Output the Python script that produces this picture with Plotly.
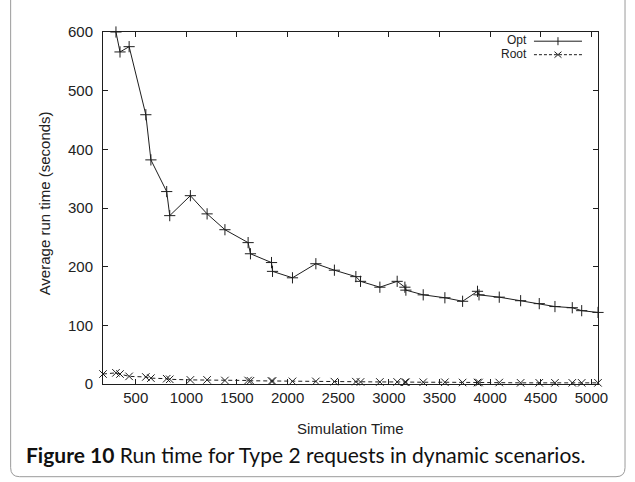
import plotly.graph_objects as go

# ---- data ----
opt_x = [305, 345, 435, 600, 650, 806, 836, 1040, 1205, 1381, 1610, 1633, 1841, 1851,
         2048, 2279, 2462, 2674, 2720, 2911, 3082, 3158, 3168, 3339, 3553, 3728, 3875,
         3890, 4090, 4301, 4485, 4640, 4811, 4904, 5065]
opt_y = [600, 566, 575, 459, 382, 328, 287, 321, 290, 263, 241, 222, 207, 192,
         181, 205, 194, 183, 175, 165, 175, 165, 160, 152, 147, 141, 158,
         152, 148, 142, 137, 132, 130, 125, 122]

root_x = [177, 305, 345, 435, 600, 650, 806, 836, 1040, 1205, 1381, 1610, 1633, 1841, 1851,
          2048, 2279, 2462, 2674, 2720, 2911, 3082, 3158, 3168, 3339, 3553, 3728, 3875,
          3890, 4090, 4301, 4485, 4640, 4811, 4904, 5065]
root_y = [17, 19, 17, 13, 12, 10, 9, 8, 7, 7, 6, 6, 5.5, 5, 5,
          4.5, 4.5, 4, 4, 3.5, 3.5, 3.5, 3, 3, 3, 3, 2.5, 2.5,
          2.5, 2.5, 2, 2, 2, 2, 2, 2]

x_ticks = [500, 1000, 1500, 2000, 2500, 3000, 3500, 4000, 4500, 5000]
y_ticks = [0, 100, 200, 300, 400, 500, 600]
series_names = ["Opt", "Root"]
x_title = "Simulation Time"
y_title = "Average run time (seconds)"
caption_bold = "Figure 10"
caption_rest = " Run time for Type 2 requests in dynamic scenarios."

# ---- geometry (pixels) ----
W, H = 635, 482
L, R, T, B = 103.3, 598.0, 32.3, 384.3
pw, ph = R - L, B - T


def px(xp):
    return (xp - L) / pw


def py(yp):
    return (B - yp) / ph


INK = "#1e1e1e"
fig = go.Figure()
fig.add_trace(go.Scatter(
    x=opt_x, y=opt_y, mode="lines+markers", name=series_names[0],
    line=dict(color=INK, width=1),
    marker=dict(symbol="cross-thin-open", size=8, line=dict(color=INK, width=1)),
    cliponaxis=False, showlegend=False))
fig.add_trace(go.Scatter(
    x=root_x, y=root_y, mode="lines+markers", name=series_names[1],
    line=dict(color=INK, width=1, dash="4px,3px"),
    marker=dict(symbol="x-thin-open", size=7.5, line=dict(color=INK, width=1)),
    cliponaxis=False, showlegend=False))

tickfont = dict(family="Liberation Sans, Arial, sans-serif", size=15, color="#222")
fig.update_xaxes(range=[177, 5065], tickvals=x_ticks, ticks="inside", ticklen=5,
                 tickcolor=INK, showline=True, linecolor=INK, linewidth=1, mirror="ticks",
                 showgrid=False, zeroline=False, tickfont=tickfont, ticklabelstandoff=0,
                 automargin=False)
fig.update_yaxes(range=[0, 600], tickvals=y_ticks, ticks="inside", ticklen=5,
                 tickcolor=INK, showline=True, linecolor=INK, linewidth=1, mirror="ticks",
                 showgrid=False, zeroline=False, tickfont=tickfont, ticklabelstandoff=6,
                 automargin=False)

ann = []
ann.append(dict(x=0.5, y=py(428.6), xref="paper", yref="paper", text=x_title,
                showarrow=False, xanchor="center", yanchor="middle",
                font=dict(family="Liberation Sans, Arial, sans-serif", size=15, color="#222")))
ann.append(dict(x=px(45), y=py(204), xref="paper", yref="paper", text=y_title,
                showarrow=False, xanchor="center", yanchor="middle", textangle=-90,
                font=dict(family="Liberation Sans, Arial, sans-serif", size=15, color="#222")))
ann.append(dict(x=px(24), y=py(455), xref="paper", yref="paper",
                text="<b>" + caption_bold + "</b>" + caption_rest,
                showarrow=False, xanchor="left", yanchor="middle",
                font=dict(family="Lato, Open Sans, sans-serif", size=21, color="#111")))
# legend texts
leg_y = [40.5, 54.5]
for name, yp in zip(series_names, leg_y):
    ann.append(dict(x=px(528), y=py(yp), xref="paper", yref="paper", text=name,
                    showarrow=False, xanchor="right", yanchor="middle", borderpad=0,
                    font=dict(family="Liberation Sans, Arial, sans-serif", size=12, color="#222")))

shapes = []
# legend samples
y1, y2 = py(leg_y[0] + 1), py(leg_y[1] + 0.5)
shapes.append(dict(type="line", xref="paper", yref="paper", x0=px(534), x1=px(582),
                   y0=y1, y1=y1, line=dict(color=INK, width=1)))
shapes.append(dict(type="line", xref="paper", yref="paper", x0=px(534), x1=px(582),
                   y0=y2, y1=y2, line=dict(color=INK, width=1, dash="3px,2px")))
cx = 558
shapes.append(dict(type="line", xref="paper", yref="paper", x0=px(cx), x1=px(cx),
                   y0=py(leg_y[0] - 3), y1=py(leg_y[0] + 5), line=dict(color=INK, width=1)))
shapes.append(dict(type="line", xref="paper", yref="paper", x0=px(cx - 3.5), x1=px(cx + 3.5),
                   y0=py(leg_y[1] - 2.5), y1=py(leg_y[1] + 3.5), line=dict(color=INK, width=1)))
shapes.append(dict(type="line", xref="paper", yref="paper", x0=px(cx - 3.5), x1=px(cx + 3.5),
                   y0=py(leg_y[1] + 3.5), y1=py(leg_y[1] - 2.5), line=dict(color=INK, width=1)))

# rounded outer frame (top edge outside view)
x0, x1, yb, yt, r = 11, 625, 477, -10, 9
X0, X1 = px(x0), px(x1)
YB, YT = py(yb), py(yt)
rx, ry = r / pw, r / ph
path = (f"M {X0},{YT} L {X0},{YB + ry} Q {X0},{YB} {X0 + rx},{YB} "
        f"L {X1 - rx},{YB} Q {X1},{YB} {X1},{YB + ry} L {X1},{YT}")
shapes.append(dict(type="path", xref="paper", yref="paper", path=path,
                   line=dict(color="#9a9a9a", width=1)))

fig.update_layout(width=W, height=H, margin=dict(l=L, r=W - R, t=T, b=H - B),
                  paper_bgcolor="white", plot_bgcolor="white",
                  annotations=ann, shapes=shapes, showlegend=False)
fig.write_html("out.html", config={"displayModeBar": False},
               post_script="document.body.style.margin='0';document.body.style.overflow='hidden';")
